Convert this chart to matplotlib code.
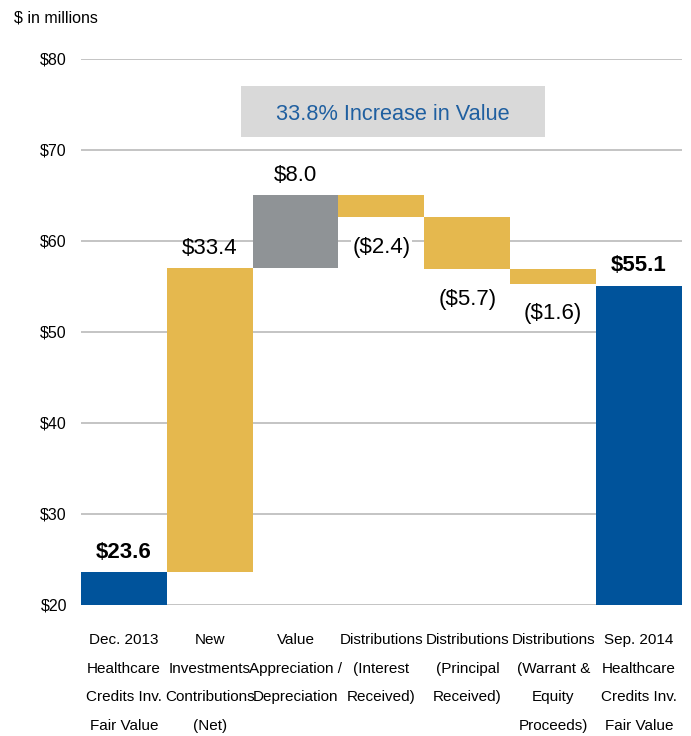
import matplotlib
matplotlib.use('Agg')
import matplotlib.pyplot as plt
from matplotlib.patches import Rectangle

plt.rcParams['font.family'] = ['Liberation Sans Narrow', 'Liberation Sans', 'DejaVu Sans']

categories = ['Dec. 2013\nHealthcare\nCredits Inv.\nFair Value',
              'New\nInvestments\nContributions\n(Net)',
              'Value\nAppreciation /\nDepreciation\n',
              'Distributions\n(Interest\nReceived)\n',
              'Distributions\n(Principal\nReceived)\n',
              'Distributions\n(Warrant &\nEquity\nProceeds)',
              'Sep. 2014\nHealthcare\nCredits Inv.\nFair Value']
values = [23.6, 33.4, 8.0, -2.4, -5.7, -1.6, 55.1]
kinds = ['total', 'step', 'step', 'step', 'step', 'step', 'total']
value_labels = ['$23.6', '$33.4', '$8.0', '($2.4)', '($5.7)', '($1.6)', '$55.1']
yticks = [20, 30, 40, 50, 60, 70, 80]

blue = '#00539b'
gold = '#e5b84e'
grey = '#8f9396'
colors = [blue, gold, grey, gold, gold, gold, blue]

fig = plt.figure(figsize=(6.91, 7.36), dpi=100)
ax = fig.add_axes([0.117, 0.178, 0.87, 0.742])
ax.set_xlim(-0.5, len(values) - 0.5)
ax.set_ylim(20, 80)

base = 20
level = 0
for i, v in enumerate(values):
    if kinds[i] == 'total':
        bottom, height = base, v - base
        level = v
        top_label = True
    elif v >= 0:
        bottom, height = level, v
        level += v
        top_label = True
    else:
        bottom, height = level + v, -v
        level += v
        top_label = False
    ax.bar(i, height, bottom=bottom, width=1.0, color=colors[i], zorder=3)
    weight = 'bold' if kinds[i] == 'total' else 'normal'
    if top_label:
        ax.annotate(value_labels[i], (i, bottom + height), xytext=(0, 7),
                    textcoords='offset points', ha='center', va='bottom',
                    fontsize=16, fontweight=weight, zorder=4)
    else:
        ax.annotate(value_labels[i], (i, bottom), xytext=(0, -14),
                    textcoords='offset points', ha='center', va='top',
                    fontsize=16, zorder=4,
                    bbox=dict(facecolor='white', edgecolor='none', pad=1))

for y in yticks:
    ax.axhline(y, color='#bfbfbf', lw=1.3, zorder=1)

ax.set_yticks(yticks)
ax.set_yticklabels(['$%d' % t for t in yticks], fontsize=11.5)
ax.set_xticks(range(len(categories)))
ax.set_xticklabels(categories, fontsize=11, linespacing=2.35, va='top')
ax.tick_params(length=0)
ax.tick_params(axis='y', pad=10)
ax.tick_params(axis='x', pad=20)
for s in ax.spines.values():
    s.set_visible(False)

# banner
ax.add_patch(Rectangle((1.37, 71.4), 3.53, 5.6, facecolor='#d9d9d9',
                       edgecolor='none', zorder=2))
ax.text(3.135, 73.9, '33.8% Increase in Value', ha='center', va='center',
        fontsize=15.7, color='#1f5fa0', zorder=3)

fig.text(0.02, 0.975, '$ in millions', ha='left', va='center', fontsize=11.5)

plt.savefig('out.png', dpi=100)
